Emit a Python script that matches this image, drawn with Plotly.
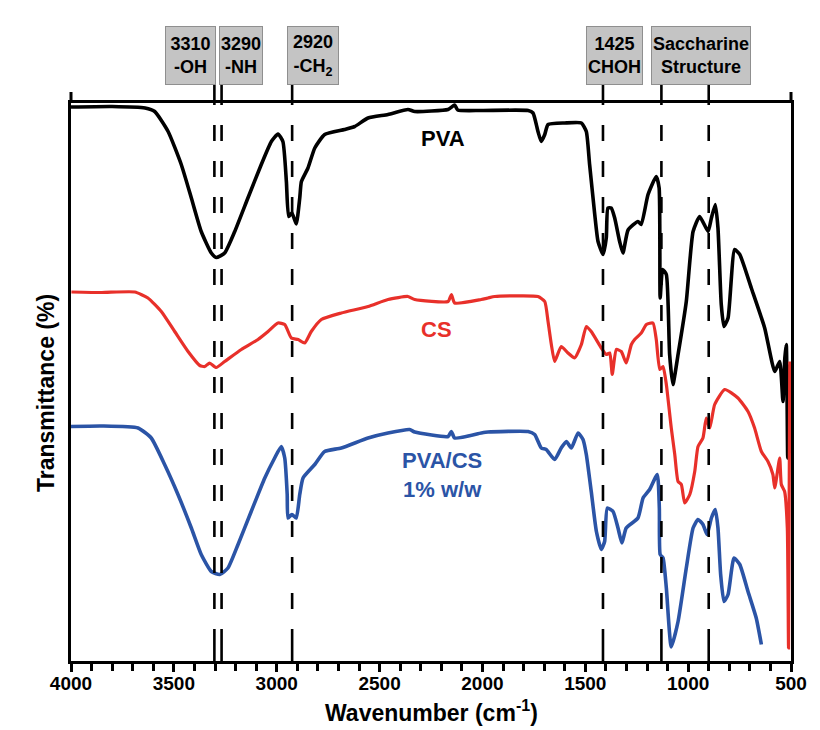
import plotly.graph_objects as go

# ---------------- data ----------------
pva_wn = [4000, 3800, 3640, 3593, 3528, 3464, 3415, 3367, 3318, 3294, 3253, 3204, 3140, 3075, 3026,
          2994, 2970, 2953, 2942, 2926, 2905, 2888, 2880, 2848, 2815, 2767, 2670, 2621, 2556,
          2459, 2362, 2329, 2167, 2135, 2120, 2007, 1778, 1754, 1730, 1714, 1697, 1681, 1600, 1519,
          1495, 1479, 1454, 1438, 1414, 1398, 1390, 1374, 1357, 1333, 1317, 1292, 1244, 1228,
          1195, 1155, 1141, 1136, 1124, 1106, 1090, 1074, 1049, 1009, 976, 944, 903, 887,
          868, 855, 839, 826, 806, 774, 749, 693, 628, 579, 555, 539, 530, 523, 516, 510, 505]
pva_t = [108.2, 108.3, 108.0, 107.3, 103.3, 96.7, 90.0, 83.3, 79.0, 78.1, 79.0, 83.3, 90.0, 96.7, 101.3,
         102.8, 101.3, 93.3, 86.3, 87.0, 84.8, 90.0, 93.3, 96.0, 100.0, 102.7, 103.7, 104.3, 106.0,
         106.7, 107.7, 107.3, 107.7, 108.6, 107.6, 107.5, 107.5, 107.0, 103.3, 101.3, 102.7, 104.7, 105.0, 105.0,
         103.3, 96.7, 86.7, 81.3, 78.7, 82.0, 88.0, 88.0, 86.0, 81.3, 79.0, 83.6, 85.3, 84.7,
         90.7, 94.3, 92.0, 70.0, 75.7, 74.7, 58.7, 52.7, 58.7, 69.3, 83.3, 86.3, 83.3, 86.0,
         88.7, 84.0, 68.7, 64.3, 66.0, 79.7, 78.7, 72.0, 64.0, 55.3, 57.3, 49.3, 58.0, 60.7, 38.0, 55.0, 56.7]

cs_wn = [3998, 3850, 3690, 3626, 3561, 3496, 3431, 3374, 3350, 3326, 3294, 3253, 3172, 3091, 3042,
         2994, 2961, 2929, 2896, 2864, 2832, 2783, 2686, 2556, 2459, 2362, 2329, 2167, 2151,
         2135, 2006, 1973, 1940, 1730, 1697, 1681, 1665, 1649, 1617, 1584, 1552, 1519, 1495,
         1471, 1422, 1398, 1381, 1369, 1349, 1325, 1301, 1276, 1260, 1228, 1203, 1171, 1155,
         1138, 1122, 1106, 1082, 1065, 1049, 1033, 1017, 992, 968, 952, 928, 912, 895, 871,
         822, 758, 709, 677, 644, 612, 588, 579, 555, 547, 531, 518, 512, 506]
cs_t = [71.2, 71.1, 71.2, 70.0, 67.3, 63.3, 59.3, 56.5, 56.3, 57.0, 56.1, 57.3, 59.7, 61.7, 63.3,
        65.0, 64.7, 62.0, 61.7, 61.0, 63.3, 65.7, 67.0, 68.3, 69.7, 70.3, 69.7, 69.3, 70.7,
        69.0, 69.7, 70.0, 70.3, 70.3, 69.3, 65.3, 60.7, 57.3, 60.3, 59.0, 58.0, 60.7, 64.3,
        63.3, 60.0, 58.7, 59.0, 54.7, 59.7, 59.3, 57.0, 60.7, 61.7, 63.0, 64.7, 65.0, 61.7,
        55.7, 56.3, 52.7, 44.0, 38.7, 33.3, 32.7, 29.0, 30.7, 35.3, 40.3, 42.0, 46.0, 44.0, 48.7,
        51.7, 50.0, 47.3, 44.0, 39.3, 37.3, 34.7, 32.0, 38.0, 32.7, 31.3, 24.0, 0.0, 57.3]

blend_wn = [4000, 3850, 3674, 3610, 3545, 3480, 3415, 3367, 3318, 3277, 3237, 3188, 3124, 3058, 3010,
            2978, 2961, 2949, 2945, 2926, 2905, 2888, 2872, 2815, 2767, 2686, 2556, 2459, 2354,
            2329, 2167, 2151, 2135, 2006, 1973, 1778, 1746, 1714, 1690, 1649, 1617, 1592, 1568,
            1535, 1511, 1495, 1471, 1446, 1422, 1406, 1393, 1365, 1341, 1322, 1301, 1244, 1219,
            1187, 1150, 1140, 1136, 1122, 1106, 1082, 1049, 1009, 976, 952, 928, 908, 887, 868,
            855, 842, 826, 806, 777, 749, 709, 669, 644]
blend_t = [44.3, 44.4, 44.0, 42.0, 36.7, 30.7, 24.0, 18.7, 15.3, 14.7, 16.0, 20.7, 27.3, 34.0, 38.0,
           40.3, 38.0, 30.7, 26.0, 26.7, 26.0, 30.7, 34.0, 36.7, 39.3, 40.0, 42.0, 43.0, 43.7,
           43.2, 42.3, 43.3, 42.0, 43.0, 43.2, 43.3, 42.7, 40.0, 39.7, 37.7, 40.0, 41.3, 40.0,
           43.0, 41.7, 38.7, 31.3, 23.3, 19.7, 21.3, 28.0, 27.3, 24.0, 21.0, 24.0, 26.0, 30.0,
           31.7, 34.7, 28.0, 18.7, 18.0, 12.0, 0.2, 5.3, 16.0, 24.0, 25.7, 24.7, 22.7, 26.0, 27.7,
           24.0, 14.7, 9.3, 10.7, 18.0, 16.7, 11.3, 6.0, 0.7]

# marker (dashed) lines and their labels
vline_wn = [3303, 3268, 2925, 1414, 1130, 900]
box_texts = ["3310<br>-OH", "3290<br>-NH", "2920<br>-CH<sub>2</sub>", "1425<br>CHOH",
             "Saccharine<br>Structure"]
box_wn = [3418, 3174, 2826, 1357, 939]
box_w = [49, 42, 50, 55, 98]

series_labels = ["PVA", "CS", "PVA/CS<br>1% w/w"]
label_wn = [2192, 2221, 2197]
label_t = [102.0, 63.8, 34.6]

x_ticks = [4000, 3500, 3000, 2500, 2000, 1500, 1000, 500]

BLACK = "#000000"
RED = "#e8302a"
BLUE = "#2b54a6"
FONT = "Liberation Sans, Arial, sans-serif"

fig = go.Figure()
for xs, ys, col, lw in [(pva_wn, pva_t, BLACK, 3.6), (blend_wn, blend_t, BLUE, 3.6),
                        (cs_wn, cs_t, RED, 3.2)]:
    fig.add_trace(go.Scatter(x=xs, y=ys, mode="lines",
                             line=dict(color=col, width=lw, shape="spline", smoothing=0.5),
                             hoverinfo="skip", showlegend=False))

PLOT_H = 558.0
bot_seg = 16 / PLOT_H
top_seg = 1 + 18 / PLOT_H
shapes = []
for w in vline_wn:
    shapes.append(dict(type="line", xref="x", yref="paper", x0=w, x1=w, y0=bot_seg, y1=1,
                       line=dict(color=BLACK, width=2.6, dash="16px,20px"), layer="above"))
    shapes.append(dict(type="line", xref="x", yref="paper", x0=w, x1=w, y0=0, y1=bot_seg,
                       line=dict(color=BLACK, width=2.6), layer="above"))
    shapes.append(dict(type="line", xref="x", yref="paper", x0=w, x1=w, y0=1, y1=top_seg,
                       line=dict(color=BLACK, width=2.6), layer="above"))
# vertical frame lines extend a little above the top line
for xp in (0, 1):
    shapes.append(dict(type="line", xref="paper", yref="paper", x0=xp, x1=xp, y0=1,
                       y1=1 + 11 / PLOT_H, line=dict(color=BLACK, width=3)))

annotations = []
box_y = (653 - 47.5) / PLOT_H
for t, w, bw in zip(box_texts, box_wn, box_w):
    annotations.append(dict(x=w, y=box_y, xref="x", yref="paper", text=t, showarrow=False,
                            font=dict(family=FONT, size=18, color=BLACK, weight="bold"),
                            bgcolor="#c4c4c4", bordercolor="#8f8f8f", borderwidth=1,
                            borderpad=0, width=bw, height=57, align="center",
                            xanchor="center", yanchor="middle"))
for t, w, yv, c in zip(series_labels, label_wn, label_t, [BLACK, RED, BLUE]):
    annotations.append(dict(x=w, y=yv, xref="x", yref="y", text=t, showarrow=False,
                            font=dict(family=FONT, size=22, color=c, weight="bold"),
                            xanchor="center", yanchor="middle", align="center"))
annotations.append(dict(x=0.5, y=(653 - 703) / PLOT_H, xref="paper", yref="paper",
                        text="Wavenumber (cm<sup>-1</sup>)", showarrow=False,
                        font=dict(family=FONT, size=23, color=BLACK, weight="bold"),
                        xanchor="center", yanchor="middle"))
annotations.append(dict(x=(38 - 63) / 720, y=(653 - 385) / PLOT_H, xref="paper", yref="paper",
                        text="Transmittance (%)", showarrow=False, textangle=-90,
                        font=dict(family=FONT, size=23, color=BLACK, weight="bold"),
                        xanchor="center", yanchor="middle"))

fig.update_layout(
    width=820, height=730,
    margin=dict(l=63, r=37, t=95, b=77),
    paper_bgcolor="white", plot_bgcolor="white",
    shapes=shapes, annotations=annotations,
    xaxis=dict(range=[4000, 500], tickvals=x_ticks, ticktext=[str(v) for v in x_ticks],
               showgrid=False, zeroline=False, showline=True, linecolor=BLACK, linewidth=3,
               mirror=True, ticks="outside", ticklen=8, tickwidth=2.5, tickcolor=BLACK,
               ticklabelstandoff=-5,
               tickfont=dict(family=FONT, size=19, color=BLACK, weight="bold"),
               minor=dict(dtick=100, tick0=0, ticks="outside", ticklen=7, tickwidth=2.5,
                          tickcolor=BLACK, showgrid=False)),
    yaxis=dict(range=[-2.6, 109], showgrid=False, zeroline=False, showline=True,
               linecolor=BLACK, linewidth=3, mirror=True, ticks="", showticklabels=False),
)

fig.write_html("out.html")
